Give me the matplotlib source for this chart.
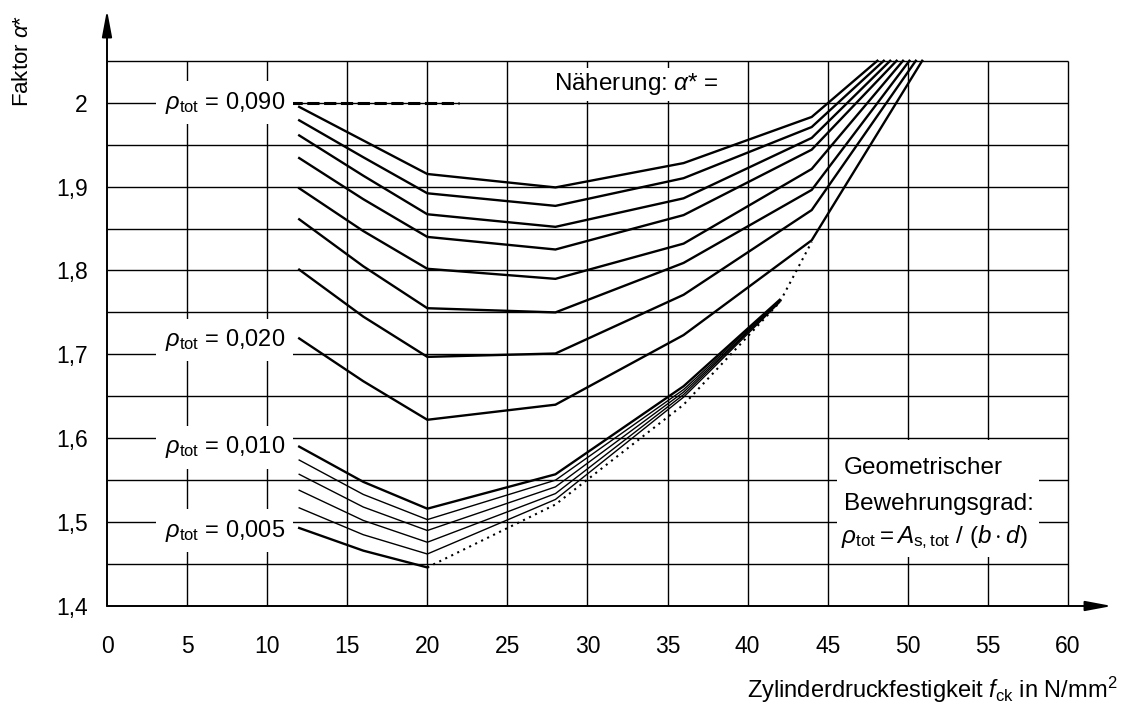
import matplotlib
matplotlib.use('Agg')
import matplotlib.pyplot as plt
from matplotlib.patches import Rectangle

plt.rcParams['font.family'] = ['Liberation Sans', 'DejaVu Sans']
plt.rcParams['mathtext.fontset'] = 'custom'
plt.rcParams['mathtext.rm'] = 'Liberation Sans'
plt.rcParams['mathtext.it'] = 'Liberation Sans:italic'
plt.rcParams['mathtext.bf'] = 'Liberation Sans:bold'

# ---------------- data ----------------
fck_upper = [12, 16, 20, 28, 36, 44]
alpha_090 = [1.995, 1.955, 1.915, 1.899, 1.928, 1.983]
alpha_080 = [1.979, 1.935, 1.892, 1.877, 1.910, 1.971]
alpha_070 = [1.961, 1.913, 1.867, 1.852, 1.886, 1.958]
alpha_060 = [1.934, 1.885, 1.840, 1.825, 1.866, 1.944]
alpha_050 = [1.898, 1.847, 1.802, 1.790, 1.832, 1.921]
alpha_040 = [1.861, 1.805, 1.755, 1.750, 1.809, 1.896]
alpha_030 = [1.801, 1.745, 1.697, 1.701, 1.771, 1.872]
alpha_020 = [1.719, 1.668, 1.622, 1.640, 1.723, 1.836]
# fck where the steep branch leaves the chart at alpha* = 2.05
fck_exit = [48.1, 48.5, 48.9, 49.3, 49.7, 50.1, 50.5, 50.9]
alpha_exit = 2.05

fck_lower = [12, 16, 20, 28, 36, 42]
alpha_010 = [1.590, 1.548, 1.516, 1.557, 1.662, 1.765]
alpha_009 = [1.574, 1.533, 1.503, 1.550, 1.658, 1.764]
alpha_008 = [1.557, 1.518, 1.490, 1.542, 1.655, 1.763]
alpha_007 = [1.538, 1.502, 1.476, 1.534, 1.652, 1.763]
alpha_006 = [1.517, 1.485, 1.462, 1.527, 1.649, 1.762]
fck_005 = [12, 16, 20]
alpha_005 = [1.493, 1.466, 1.446]
fck_dotted = [20, 28, 36, 42, 44]
alpha_dotted = [1.446, 1.521, 1.640, 1.762, 1.834]

x_ticks = [0, 5, 10, 15, 20, 25, 30, 35, 40, 45, 50, 55, 60]
y_ticks = [1.4, 1.5, 1.6, 1.7, 1.8, 1.9, 2.0]
y_ticklabels = ['1,4', '1,5', '1,6', '1,7', '1,8', '1,9', '2']
y_grid = [1.45, 1.5, 1.55, 1.6, 1.65, 1.7, 1.75, 1.8, 1.85, 1.9, 1.95, 2.0, 2.05]
x_grid = [5, 10, 15, 20, 25, 30, 35, 40, 45, 50, 55, 60]

labels_rho = ['0,090', '0,020', '0,010', '0,005']
labels_rho_y = [2.0, 1.717, 1.589, 1.490]

# ---------------- figure ----------------
fig = plt.figure(figsize=(11.35, 7.08), dpi=100)
ax = fig.add_axes([107/1135, 102/708, (1112-107)/1135, 596/708])
ax.set_xlim(0, 62.75)
ax.set_ylim(1.4, 2.1105)
for s in ax.spines.values():
    s.set_visible(False)

# grid
ax.hlines(y_grid, 0, 60, colors='black', lw=1.0, zorder=1)
ax.vlines(x_grid, 1.4, 2.05, colors='black', lw=1.0, zorder=1)

# axes with arrows
ax.annotate('', xy=(0, 2.1105), xytext=(0, 1.4),
            arrowprops=dict(arrowstyle='-|>,head_length=0.8,head_width=0.15',
                            color='black', lw=1.4, mutation_scale=20,
                            shrinkA=0, shrinkB=0), zorder=6)
ax.annotate('', xy=(62.75, 1.4), xytext=(0, 1.4),
            arrowprops=dict(arrowstyle='-|>,head_length=0.8,head_width=0.15',
                            color='black', lw=1.4, mutation_scale=20,
                            shrinkA=0, shrinkB=0), zorder=6)

ax.set_xticks(x_ticks)
ax.set_xticklabels([str(v) for v in x_ticks], fontsize=16.5)
ax.set_yticks(y_ticks)
ax.set_yticklabels(y_ticklabels, fontsize=16.5)
ax.tick_params(axis='x', length=0, pad=21)
ax.tick_params(axis='y', length=0, pad=14)

# upper curves
upper = [alpha_090, alpha_080, alpha_070, alpha_060,
         alpha_050, alpha_040, alpha_030, alpha_020]
for vals, xe in zip(upper, fck_exit):
    ax.plot(fck_upper + [xe], vals + [alpha_exit], color='black', lw=1.7,
            solid_joinstyle='miter', zorder=4)

# lower curves
ax.plot(fck_lower, alpha_010, color='black', lw=1.7, zorder=4)
for vals in [alpha_009, alpha_008, alpha_007, alpha_006]:
    ax.plot(fck_lower, vals, color='black', lw=1.0, zorder=4)
ax.plot(fck_005, alpha_005, color='black', lw=1.7, zorder=4)
ax.plot(fck_dotted, alpha_dotted, color='black', lw=1.5, ls=(0, (1, 2.2)), zorder=4)

# thick dashed approximation at alpha* = 2.0
ax.plot([11.4, 22.0], [2.0, 2.0], color='black', lw=2.2, ls=(0, (4, 1.5)), zorder=3)

# rho labels
for lab, yy in zip(labels_rho, labels_rho_y):
    ax.text(11.1, yy, r'$\rho_{\mathrm{tot}}$ = ' + lab, ha='right', va='center',
            fontsize=17, zorder=5,
            bbox=dict(boxstyle='square,pad=0.35', fc='white', ec='none'))

ax.text(27.9, 2.022, r'Näherung: $\alpha$* =', ha='left', va='center', fontsize=17.5,
        zorder=5, bbox=dict(boxstyle='square,pad=0.15', fc='white', ec='none'))

# lower-right explanatory block
ax.add_patch(Rectangle((45.6, 1.458), 12.6, 0.140, fc='white', ec='none', zorder=2))
ax.text(46.0, 1.564, 'Geometrischer', ha='left', va='center', fontsize=17.5, zorder=5)
ax.text(46.0, 1.522, 'Bewehrungsgrad:', ha='left', va='center', fontsize=17.5, zorder=5)
ax.text(45.8, 1.482, r'$\rho_{\mathrm{tot}} = A_{\mathrm{s,tot}}$ / ($b\cdot d$)',
        ha='left', va='center', fontsize=17.5, zorder=5)

# axis titles
fig.text(1117/1135, 1-690/708, r'Zylinderdruckfestigkeit $f_{\mathrm{ck}}$ in N/mm$^2$',
         ha='right', va='center', fontsize=17)
fig.text(23/1135, 1-61/708, r'Faktor $\alpha$*', rotation=90, ha='center', va='center',
         fontsize=16)

fig.savefig('out.png', dpi=100)
